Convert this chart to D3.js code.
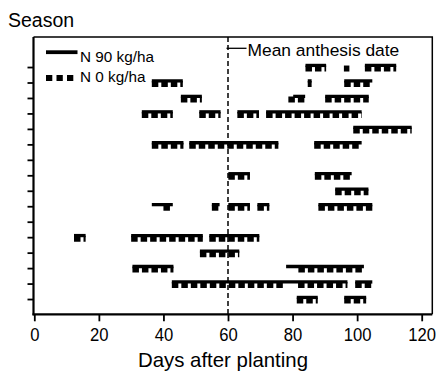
<!DOCTYPE html>
<html><head><meta charset="utf-8">
<script src="https://cdn.jsdelivr.net/npm/d3@7"></script>
<style>
html,body{margin:0;padding:0;background:#fff;}
text{font-family:"Liberation Sans",Arial,sans-serif;fill:#000;}
</style></head>
<body>
<script>
// ---- data ----
const seasons = d3.range(1, 17).map(i => "Season " + i);
const xTicks = [0, 20, 40, 60, 80, 100, 120];
const meanAnthesis = 60;
// [seasonIndex, startDay, endDay]
const n90Segments = [
  [0, 84.0, 90.4], [0, 102.4, 112.1],
  [1, 36.4, 46.0], [1, 84.7, 85.9], [1, 96.0, 104.7],
  [2, 45.4, 51.9], [2, 80.2, 83.9], [2, 90.1, 103.6],
  [3, 33.3, 42.9], [3, 51.1, 57.7], [3, 62.9, 69.6], [3, 71.8, 101.4],
  [4, 98.8, 116.9],
  [5, 36.4, 46.2], [5, 48.0, 75.6], [5, 86.7, 101.4],
  [7, 60.1, 66.8], [7, 86.9, 98.3],
  [8, 93.2, 103.5],
  [9, 36.4, 42.9], [9, 55.0, 57.4], [9, 60.1, 66.8], [9, 69.1, 72.8], [9, 88.0, 104.7],
  [11, 12.3, 15.9], [11, 30.0, 52.2], [11, 54.2, 69.7],
  [12, 51.3, 63.5],
  [13, 30.4, 43.1], [13, 78.0, 102.1],
  [14, 42.6, 97.0], [14, 99.4, 104.7],
  [15, 81.3, 87.8], [15, 96.0, 102.8]
];
const n0Segments = [
  [0, 84.0, 90.4], [0, 95.9, 97.6], [0, 102.4, 112.1],
  [1, 36.4, 46.0], [1, 84.7, 85.9], [1, 96.0, 104.7],
  [2, 45.4, 51.9], [2, 78.7, 83.9], [2, 90.1, 103.6],
  [3, 33.3, 42.9], [3, 51.1, 57.7], [3, 62.9, 69.6], [3, 71.8, 101.4],
  [4, 98.8, 116.9],
  [5, 36.4, 46.2], [5, 48.0, 75.6], [5, 86.7, 101.4],
  [7, 60.1, 66.8], [7, 86.9, 98.3],
  [8, 93.2, 103.5],
  [9, 40.0, 42.9], [9, 55.0, 57.4], [9, 60.1, 66.8], [9, 69.1, 72.8], [9, 88.0, 104.7],
  [11, 12.3, 15.9], [11, 30.0, 52.2], [11, 54.2, 69.7],
  [12, 51.3, 63.5],
  [13, 30.4, 43.1], [13, 81.8, 102.1],
  [14, 42.6, 77.7], [14, 81.7, 97.0], [14, 99.4, 104.7],
  [15, 81.3, 87.8], [15, 96.0, 102.8]
];
const legendLabels = ["N 90 kg/ha", "N 0 kg/ha"];

// ---- chart ----
const W = 436, H = 372;
const svg = d3.select("body").append("svg").attr("width", W).attr("height", H);

const x = d3.scaleLinear().domain([0, 120]).range([34.3, 421.7]);
const y = d3.scaleLinear().domain([-2, 16]).range([36.1, 314.5]);
const pLeft = 33.5, pRight = 432.3, pTop = 37, pBottom = 314.3;

// frame (top and right thin)
svg.append("path")
  .attr("d", `M${pLeft},${pTop}H${pRight}V${pBottom}`)
  .attr("fill", "none").attr("stroke", "#000").attr("stroke-width", 1.5);

// x axis
const xAxis = svg.append("g").attr("transform", `translate(0,${pBottom})`)
  .call(d3.axisBottom(x).tickValues(xTicks).tickSize(7).tickPadding(7).tickSizeOuter(0));
xAxis.select(".domain").attr("d", `M${pLeft - 1},0H${pRight}`).attr("stroke-width", 2.2);
xAxis.selectAll(".tick line").attr("stroke-width", 1.8);
xAxis.selectAll(".tick text")
  .attr("font-size", 18.5).attr("font-family", "Liberation Sans, Arial, sans-serif")
  .attr("transform", "scale(0.9,1)")
  .attr("x", 0);

// y axis (season ticks, no labels)
const yAxis = svg.append("g").attr("transform", `translate(${pLeft},0)`)
  .call(d3.axisLeft(y).tickValues(d3.range(seasons.length)).tickFormat("").tickSize(6).tickSizeOuter(0));
yAxis.select(".domain").attr("d", `M0,${pTop}V${pBottom + 1}`).attr("stroke-width", 2.2);
yAxis.selectAll(".tick line").attr("stroke-width", 1.8);

// mean anthesis line
svg.append("line")
  .attr("x1", x(meanAnthesis)).attr("x2", x(meanAnthesis))
  .attr("y1", pTop).attr("y2", pBottom)
  .attr("stroke", "#000").attr("stroke-width", 1.5).attr("stroke-dasharray", "5,3");
svg.append("line")
  .attr("x1", x(meanAnthesis) - 1.5).attr("x2", x(meanAnthesis) + 18.5)
  .attr("y1", 48.3).attr("y2", 48.3).attr("stroke", "#000").attr("stroke-width", 1.3);
svg.append("text").attr("x", x(meanAnthesis) + 19.5).attr("y", 55.8)
  .attr("font-size", 17.4).text("Mean anthesis date");

// series
svg.append("g").selectAll("line").data(n0Segments).join("line")
  .attr("x1", d => x(d[1])).attr("x2", d => x(d[2]))
  .attr("y1", d => y(d[0]) + 1.5).attr("y2", d => y(d[0]) + 1.5)
  .attr("stroke", "#000").attr("stroke-width", 6).attr("stroke-dasharray", "6.5,3");
svg.append("g").selectAll("line").data(n90Segments).join("line")
  .attr("x1", d => x(d[1])).attr("x2", d => x(d[2]))
  .attr("y1", d => y(d[0]) - 1.6).attr("y2", d => y(d[0]) - 1.6)
  .attr("stroke", "#000").attr("stroke-width", 3.3);

// legend
const lg = svg.append("g");
lg.append("line").attr("x1", 46).attr("x2", 77.5).attr("y1", 52.2).attr("y2", 52.2)
  .attr("stroke", "#000").attr("stroke-width", 3.8);
lg.append("text").attr("x", 80).attr("y", 61.7).attr("font-size", 15.3).text(legendLabels[0]);
lg.append("line").attr("x1", 46).attr("x2", 74).attr("y1", 78).attr("y2", 78)
  .attr("stroke", "#000").attr("stroke-width", 6).attr("stroke-dasharray", "6.3,4.2");
lg.append("text").attr("x", 80).attr("y", 81.7).attr("font-size", 15.3).text(legendLabels[1]);

// titles
svg.append("text").attr("x", 8).attr("y", 27).attr("font-size", 19.5).text("Season");
svg.append("text").attr("x", 223).attr("y", 366.5).attr("text-anchor", "middle")
  .attr("font-size", 20.4).text("Days after planting");
</script>
</body></html>
